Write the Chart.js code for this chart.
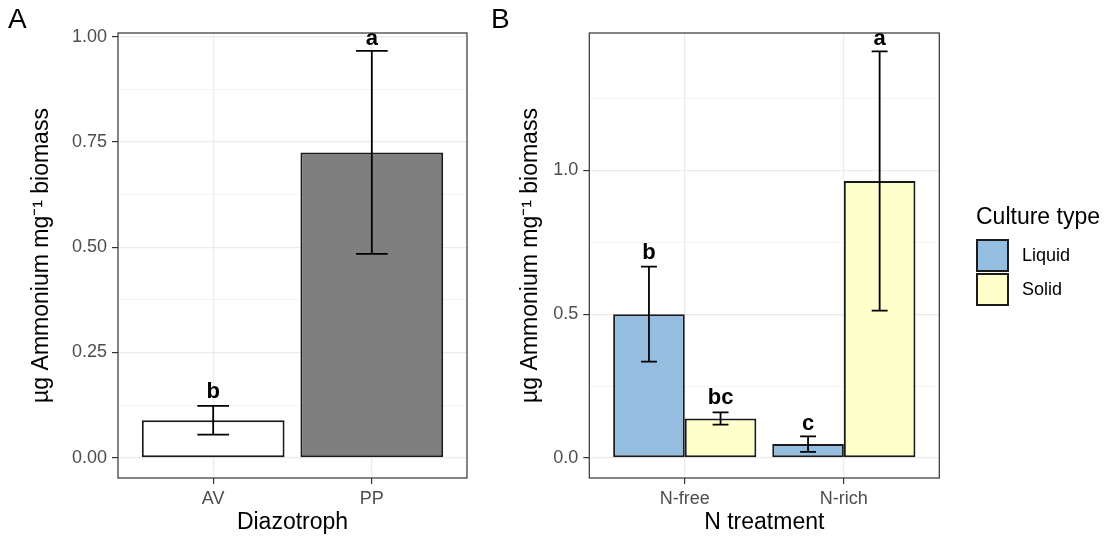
<!DOCTYPE html>
<html>
<head>
<meta charset="utf-8">
<script src="https://cdn.jsdelivr.net/npm/chart.js@4.4.0/dist/chart.umd.min.js"></script>
<style>
  html, body { margin:0; padding:0; background:#ffffff; }
  body { position:relative; width:1107px; height:538px; overflow:hidden; font-family:"Liberation Sans", Arial, sans-serif; }
  #wrapA { position:absolute; left:0; top:0; width:480px; height:538px; }
  #wrapB { position:absolute; left:480px; top:0; width:627px; height:538px; }
  .tag { position:absolute; font-size:28px; line-height:28px; color:#000; }
  #legendTitle { position:absolute; left:976px; top:203px; font-size:23px; line-height:27px; color:#000; white-space:nowrap; }
  .key { position:absolute; left:976px; width:33px; height:33px; box-sizing:border-box; border:2px solid #1a1a1a; }
  .keyLabel { position:absolute; left:1022px; height:33px; font-size:18px; line-height:33px; color:#000; white-space:nowrap; }
</style>
</head>
<body>
<div id="wrapA"><canvas id="chartA" width="480" height="538"></canvas></div>
<div id="wrapB"><canvas id="chartB" width="627" height="538"></canvas></div>
<div class="tag" style="left:8px; top:5px;">A</div>
<div class="tag" style="left:491px; top:5px;">B</div>
<div id="legendTitle"></div>
<div id="legendItems"></div>
<script>
// ---------- Panel A data ----------
const diazotrophs = ['AV', 'PP'];
const meanA = [0.089, 0.725];
const seA = [0.034, 0.241];
const lettersA = ['b', 'a'];
const yTicksA = [0, 0.25, 0.5, 0.75, 1.0];
const yTickLabelsA = ['0.00', '0.25', '0.50', '0.75', '1.00'];
const yMinorA = [0.125, 0.375, 0.625, 0.875];

// ---------- Panel B data ----------
const treatments = ['N-free', 'N-rich'];
const cultureTypes = ['Liquid', 'Solid'];
const meanLiquid = [0.500, 0.048];
const seLiquid = [0.165, 0.027];
const lettersLiquid = ['b', 'c'];
const meanSolid = [0.137, 0.963];
const seSolid = [0.021, 0.451];
const lettersSolid = ['bc', 'a'];
const yTicksB = [0, 0.5, 1.0];
const yTickLabelsB = ['0.0', '0.5', '1.0'];
const yMinorB = [0.25, 0.75, 1.25];

// ---------- Text ----------
const yTitle = 'µg Ammonium mg⁻¹ biomass';
const xTitleA = 'Diazotroph';
const xTitleB = 'N treatment';
const legendTitle = 'Culture type';

// ---------- Styles ----------
const FONT = '"Liberation Sans", Arial, sans-serif';
const GRID = '#EBEBEB';
const AXIS = '#333333';
const TICKTXT = '#4D4D4D';
const BARLINE = '#1a1a1a';
const fillA = ['#FFFFFF', '#7F7F7F'];
const fillLiquid = '#94BDE0';
const fillSolid = '#FFFFCC';

Chart.defaults.font.family = FONT;

const panelPlugin = {
  id: 'panelExtras',
  afterDatasetsDraw(chart, args, opts) {
    const ctx = chart.ctx;
    const xs = chart.scales.x, ys = chart.scales.y;
    const capHalf = Math.abs(xs.getPixelForValue(1 + opts.capWidth / 2) - xs.getPixelForValue(1));
    chart.data.datasets.forEach((ds, d) => {
      const meta = chart.getDatasetMeta(d);
      meta.data.forEach((el, i) => {
        const m = ds.data[i].y, e = ds.errors[i];
        const yT = ys.getPixelForValue(m + e);
        const yB = ys.getPixelForValue(m - e);
        ctx.save();
        ctx.strokeStyle = '#000';
        ctx.lineWidth = 1.8;
        ctx.beginPath();
        ctx.moveTo(el.x, yT); ctx.lineTo(el.x, yB);
        ctx.moveTo(el.x - capHalf, yT); ctx.lineTo(el.x + capHalf, yT);
        ctx.moveTo(el.x - capHalf, yB); ctx.lineTo(el.x + capHalf, yB);
        ctx.stroke();
        ctx.font = 'bold 22px ' + FONT;
        ctx.fillStyle = '#000';
        ctx.textAlign = 'center';
        ctx.textBaseline = 'alphabetic';
        const lab = ds.letters[i];
        const asc = ctx.measureText(lab).actualBoundingBoxAscent;
        ctx.fillText(lab, el.x, yT - 0.5 * asc);
        ctx.restore();
      });
    });
  },
  afterDraw(chart) {
    const ctx = chart.ctx;
    const {left, top, right, bottom} = chart.chartArea;
    ctx.save();
    ctx.strokeStyle = AXIS;
    ctx.lineWidth = 1.2;
    ctx.strokeRect(left, top, right - left, bottom - top);
    ctx.restore();
  }
};

function yScale(ticks, labels, minor, min, max, width, titlePad) {
  return {
    type: 'linear', min, max,
    afterBuildTicks: s => {
      s.ticks = ticks.map(v => ({value: v}))
        .concat(minor.map(v => ({value: v, minor: true})))
        .sort((a, b) => a.value - b.value);
    },
    afterFit: s => { s.width = width; },
    ticks: {
      autoSkip: false, color: TICKTXT, font: {size: 18}, padding: 5,
      callback: (v, i, t) => t[i].minor ? '' : labels[ticks.indexOf(v)]
    },
    grid: {
      color: GRID,
      lineWidth: c => (c.tick && c.tick.minor) ? 0.6 : 1.2,
      tickColor: c => (c.tick && c.tick.minor) ? 'rgba(0,0,0,0)' : AXIS,
      tickLength: 6, tickWidth: 1.2, drawTicks: true
    },
    border: {display: false},
    title: {display: true, text: yTitle, color: '#000', font: {size: 23}, padding: {top: titlePad, bottom: 0}}
  };
}

function xScale(cats, title) {
  return {
    type: 'linear', min: 0.4, max: 2.6, offset: false,
    afterBuildTicks: s => { s.ticks = cats.map((c, i) => ({value: i + 1})); },
    afterFit: s => { s.height = 60; },
    ticks: {autoSkip: false, maxRotation: 0, color: TICKTXT, font: {size: 18}, padding: 4,
      callback: (v, i) => cats[i]},
    grid: {offset: false, color: GRID, lineWidth: 1.2, tickColor: AXIS, tickLength: 6, tickWidth: 1.2},
    border: {display: false},
    title: {display: true, text: title, color: '#000', font: {size: 23}, padding: {top: 0, bottom: 2}}
  };
}

const chartA = new Chart(document.getElementById('chartA'), {
  type: 'bar',
  data: {
    datasets: [{
      label: 'Diazotroph',
      data: diazotrophs.map((c, i) => ({x: i + 1, y: meanA[i]})),
      errors: seA,
      letters: lettersA,
      backgroundColor: fillA,
      borderColor: BARLINE,
      borderWidth: 2,
      borderSkipped: false,
      categoryPercentage: 1.0,
      barPercentage: 0.9
    }]
  },
  options: {
    responsive: false, animation: false, devicePixelRatio: 1,
    layout: {padding: {top: 33, right: 13, left: 0, bottom: 0}},
    plugins: {legend: {display: false}, tooltip: {enabled: false}, panelExtras: {capWidth: 0.2}},
    scales: {
      x: xScale(diazotrophs, xTitleA),
      y: yScale(yTicksA, yTickLabelsA, yMinorA, -0.048, 1.0085, 118, 28)
    }
  },
  plugins: [panelPlugin]
});

const chartB = new Chart(document.getElementById('chartB'), {
  type: 'bar',
  data: {
    datasets: [
      {
        label: cultureTypes[0],
        data: treatments.map((c, i) => ({x: i + 1, y: meanLiquid[i]})),
        errors: seLiquid, letters: lettersLiquid,
        backgroundColor: fillLiquid, borderColor: BARLINE, borderWidth: 2, borderSkipped: false,
        categoryPercentage: 0.9, barPercentage: 1.0
      },
      {
        label: cultureTypes[1],
        data: treatments.map((c, i) => ({x: i + 1, y: meanSolid[i]})),
        errors: seSolid, letters: lettersSolid,
        backgroundColor: fillSolid, borderColor: BARLINE, borderWidth: 2, borderSkipped: false,
        categoryPercentage: 0.9, barPercentage: 1.0
      }
    ]
  },
  options: {
    responsive: false, animation: false, devicePixelRatio: 1,
    layout: {padding: {top: 33, right: 167.7, left: 0, bottom: 0}},
    plugins: {legend: {display: false}, tooltip: {enabled: false}, panelExtras: {capWidth: 0.1}},
    scales: {
      x: xScale(treatments, xTitleB),
      y: yScale(yTicksB, yTickLabelsB, yMinorB, -0.070, 1.478, 109.3, 37)
    }
  },
  plugins: [panelPlugin]
});

// HTML legend built from the chart's own legend items
document.getElementById('legendTitle').textContent = legendTitle;
const items = Chart.defaults.plugins.legend.labels.generateLabels(chartB);
const holder = document.getElementById('legendItems');
items.forEach((it, k) => {
  const top = 239 + k * 34;
  const sw = document.createElement('div');
  sw.className = 'key';
  sw.style.top = top + 'px';
  sw.style.background = it.fillStyle;
  holder.appendChild(sw);
  const lb = document.createElement('div');
  lb.className = 'keyLabel';
  lb.style.top = top + 'px';
  lb.textContent = it.text;
  holder.appendChild(lb);
});
</script>
</body>
</html>
